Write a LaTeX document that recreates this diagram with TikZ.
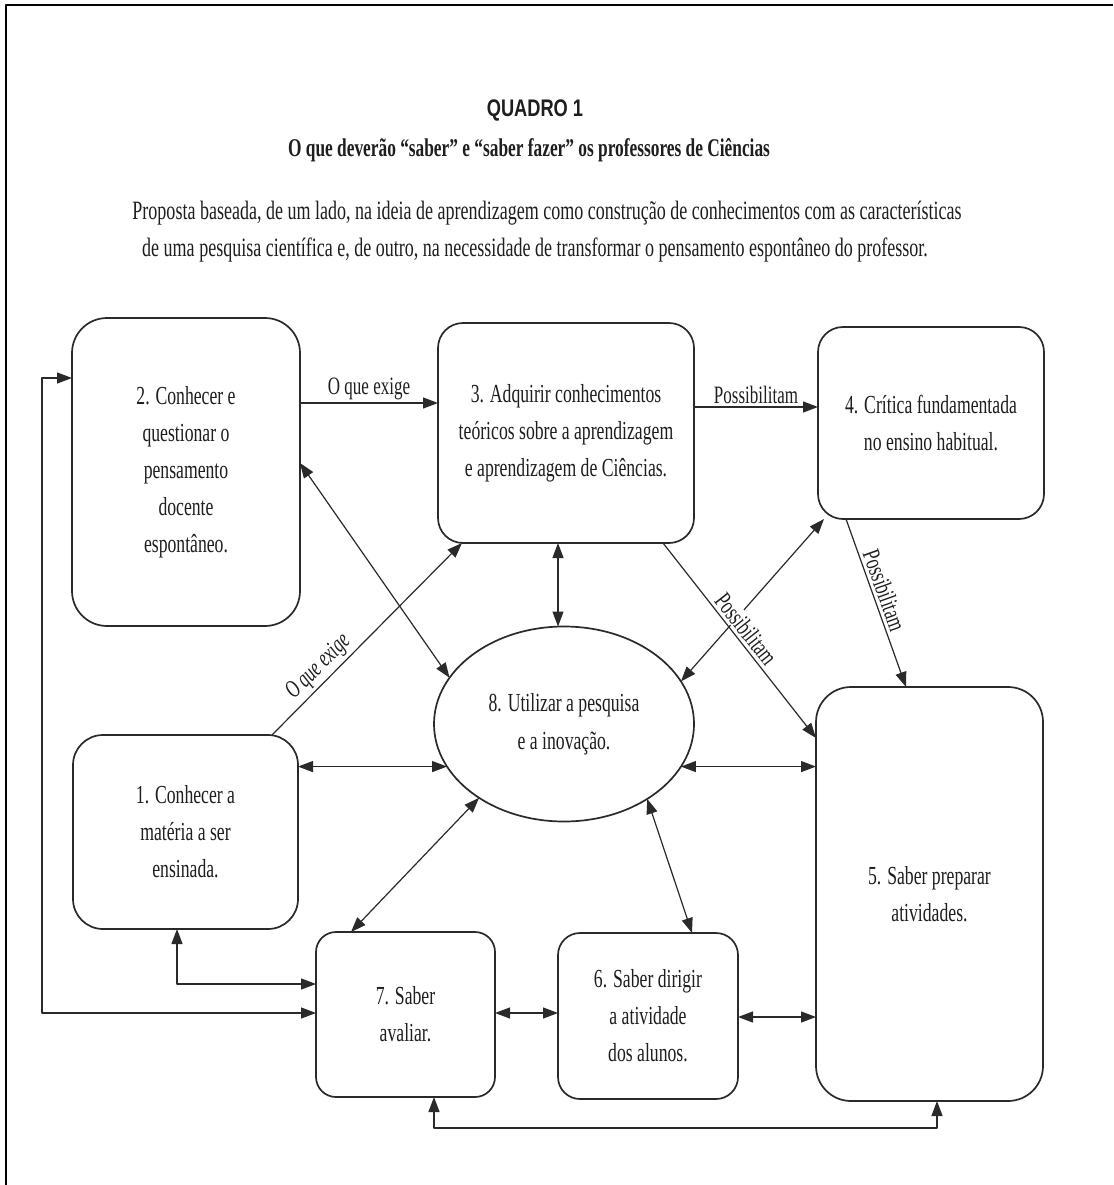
\documentclass[tikz,border=0pt]{standalone}
\usepackage{fontspec}
\setmainfont{Liberation Serif}
\newfontfamily\cfont[FakeStretch=0.68]{Liberation Serif}
\newfontfamily\tfont[FakeStretch=0.76]{Liberation Sans}
\usetikzlibrary{arrows.meta,shapes.geometric,calc}
\definecolor{ink}{HTML}{2A2A2A}
\definecolor{txt}{HTML}{1E1E1E}
\begin{document}
\begin{tikzpicture}[x=1pt,y=-1pt,line join=round,
  box/.style={draw=ink, line width=1.7pt, rounded corners=#1, align=center,
    inner sep=0pt, outer sep=0pt, text=txt, font=\cfont\fontsize{26}{37}\selectfont},
  box/.default=25pt,
  oval/.style={ellipse, draw=ink, line width=1.7pt, align=center, inner sep=0pt,
    outer sep=0pt, text=txt, minimum width=260pt, minimum height=195pt,
    font=\cfont\fontsize{26}{38}\selectfont},
  conn/.style={draw=ink, line width=1.2pt},
  lab/.style={text=txt, font=\cfont\fontsize{25}{28}\selectfont, inner sep=3pt},
  >={Triangle[length=15pt,width=11pt]}
]
\useasboundingbox (0,0) rectangle (1113,1185);
\fill[white] (0,0) rectangle (1113,1185);
\draw[black, line width=2pt] (6,1185) -- (6,5) -- (1113,5);

% titles
\node[text=txt, font=\tfont\bfseries\fontsize{24}{26}\selectfont] (title) at (535,110) {QUADRO 1};
\node[text=txt, font=\cfont\bfseries\fontsize{25.5}{28}\selectfont] (sub) at (529,150)
  {O que deverão “saber” e “saber fazer” os professores de Ciências};
\node[text=txt, font=\cfont\fontsize{26.5}{30}\selectfont] (p1) at (547,213)
  {Proposta baseada, de um lado, na ideia de aprendizagem como construção de conhecimentos com as características};
\node[text=txt, font=\cfont\fontsize{26.5}{30}\selectfont] (p2) at (535,250)
  {de uma pesquisa científica e, de outro, na necessidade de transformar o pensamento espontâneo do professor.};

% boxes
\node[box=35pt, minimum width=228pt, minimum height=308pt] (b2) at (186,472)
  {2. Conhecer e\\questionar o\\pensamento\\docente\\espontâneo.};
\node[box=25pt, minimum width=256pt, minimum height=220pt] (b3) at (566,433)
  {3. Adquirir conhecimentos\\teóricos sobre a aprendizagem\\e aprendizagem de Ciências.};
\node[box=25pt, minimum width=226pt, minimum height=192pt] (b4) at (931,423)
  {4. Crítica fundamentada\\no ensino habitual.};
\node[box=30pt, minimum width=225pt, minimum height=194pt] (b1) at (185.5,832)
  {1. Conhecer a\\matéria a ser\\ensinada.};
\node[box=20pt, minimum width=179pt, minimum height=165pt] (b7) at (405.5,1014.5)
  {7. Saber\\avaliar.};
\node[box=22pt, minimum width=180pt, minimum height=166pt] (b6) at (648,1016)
  {6. Saber dirigir\\a atividade\\dos alunos.};
\node[box=35pt, minimum width=227pt, minimum height=414pt] (b5) at (929.5,894)
  {5. Saber preparar\\atividades.};
\node[oval] (e8) at (564,724) {8. Utilizar a pesquisa\\e a inovação.};

% connectors
\coordinate (lx) at (42,0);
\draw[conn,->] (b2.east |- 0,403) -- node[lab, above] {O que exige} (b3.west |- 0,403);
\draw[conn,->] (b3.east |- 0,407) -- node[lab, above] {Possibilitam} (b4.west |- 0,407);
\draw[conn,<->] (b7.west |- 0,1013) -- (lx |- 0,1013) -- (lx |- 0,378) -- (b2.west |- 0,378);
\draw[conn,<->] (b1.south -| 177,0) -- (177,984) -- (b7.west |- 0,984);
\draw[conn,<->] (b7.south -| 434,0) -- (434,1128) -- (937,1128) -- (b5.south -| 937,0);
\draw[conn,<->] (b1.east |- e8.200) -- (e8.200);
\draw[conn,<->] (e8.-20) -- (b5.west |- e8.-20);
\draw[conn,<->] (b7.east |- 0,1013) -- (b6.west |- 0,1013);
\draw[conn,<->] (b6.east |- 0,1017) -- (b5.west |- 0,1017);
\draw[conn,<->] (b3.south -| 558,0) -- (e8.north -| 558,0);
\draw[conn,<->] (b2.east |- 0,463) -- (e8.158);
\draw[conn,->] (b1.north -| 272,0) -- node[lab, pos=0.3, sloped, above, font=\cfont\itshape\fontsize{25}{28}\selectfont] {O que exige} (b3.south -| 462,0);
\draw[conn,<->] (b4.south -| 824,0) -- (e8.20);
\draw[conn,->] (b3.south -| 663,0) -- node[lab, pos=0.48, sloped, above, fill=white, inner sep=1pt, yshift=2pt] {Possibilitam} (b5.west |- 0,738);
\draw[conn,->] (b4.south -| 846,0) -- node[lab, pos=0.45, sloped, above] {Possibilitam} (b5.north -| 906,0);
\draw[conn,<->] (e8.221) -- (b7.north -| 351,0);
\draw[conn,<->] (e8.-42) -- (b6.north -| 692,0);
\end{tikzpicture}
\end{document}
